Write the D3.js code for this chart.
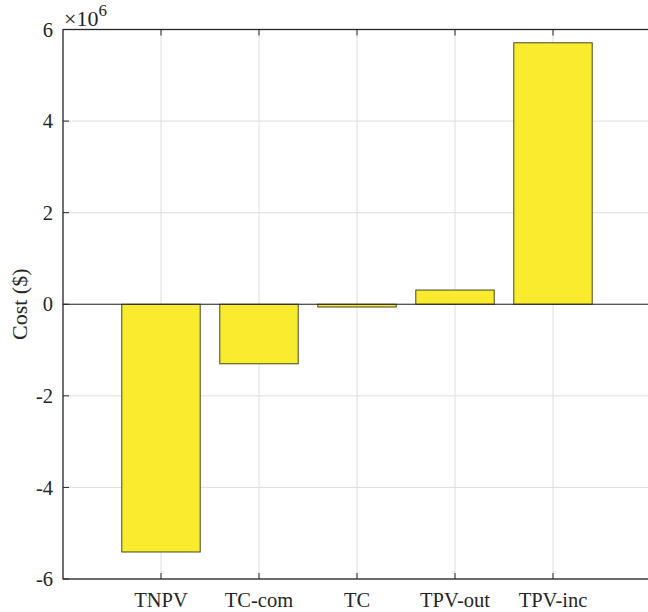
<!DOCTYPE html>
<html>
<head>
<meta charset="utf-8">
<script src="https://cdn.jsdelivr.net/npm/d3@7"></script>
<style>
  body { margin: 0; background: #fff; }
  text { font-family: "Liberation Serif", "DejaVu Serif", serif; fill: #262626; }
</style>
</head>
<body>
<script>
// chart data
var categories = ["TNPV", "TC-com", "TC", "TPV-out", "TPV-inc"];
var costs = [-5.41e6, -1.30e6, -0.06e6, 0.31e6, 5.71e6];
var yTicks = [-6e6, -4e6, -2e6, 0, 2e6, 4e6, 6e6];

var width = 648, height = 612;
var margin = { top: 29.5, right: -3, bottom: 33, left: 63 };
var plotW = width - margin.left - margin.right,
    plotH = height - margin.top - margin.bottom;

var svg = d3.select("body").append("svg")
    .attr("width", width)
    .attr("height", height);

var g = svg.append("g")
    .attr("transform", "translate(" + margin.left + "," + margin.top + ")");

// x: positions 1..5 in domain [0, 6]
var x = d3.scaleLinear().domain([0, 6]).range([0, plotW]);
var y = d3.scaleLinear().domain([-6e6, 6e6]).range([plotH, 0]);

var tickLen = 6;

// grid
g.selectAll("line.gx")
    .data(categories)
    .enter().append("line")
    .attr("class", "gx")
    .attr("x1", function (d, i) { return x(i + 1); })
    .attr("x2", function (d, i) { return x(i + 1); })
    .attr("y1", 0).attr("y2", plotH)
    .attr("stroke", "#dedede").attr("stroke-width", 1);

g.selectAll("line.gy")
    .data(yTicks)
    .enter().append("line")
    .attr("class", "gy")
    .attr("x1", 0).attr("x2", plotW)
    .attr("y1", function (d) { return y(d); })
    .attr("y2", function (d) { return y(d); })
    .attr("stroke", "#dedede").attr("stroke-width", 1);

// bars
var barW = x(0.8) - x(0);
g.selectAll("rect.bar")
    .data(costs)
    .enter().append("rect")
    .attr("class", "bar")
    .attr("x", function (d, i) { return x(i + 1) - barW / 2; })
    .attr("width", barW)
    .attr("y", function (d) { return y(Math.max(0, d)); })
    .attr("height", function (d) { return Math.abs(y(d) - y(0)); })
    .attr("fill", "#f9ec2e")
    .attr("stroke", "#4a4720")
    .attr("stroke-width", 1);

// baseline at zero
g.append("line")
    .attr("x1", 0).attr("x2", plotW)
    .attr("y1", y(0)).attr("y2", y(0))
    .attr("stroke", "#262626").attr("stroke-width", 1);

// box
g.append("rect")
    .attr("x", 0).attr("y", 0)
    .attr("width", plotW).attr("height", plotH)
    .attr("fill", "none")
    .attr("stroke", "#262626").attr("stroke-width", 1.3);

// ticks (inward)
categories.forEach(function (c, i) {
    var px = x(i + 1);
    g.append("line").attr("x1", px).attr("x2", px)
        .attr("y1", plotH).attr("y2", plotH - tickLen)
        .attr("stroke", "#262626");
    g.append("line").attr("x1", px).attr("x2", px)
        .attr("y1", 0).attr("y2", tickLen)
        .attr("stroke", "#262626");
});
yTicks.forEach(function (v) {
    g.append("line").attr("x1", 0).attr("x2", tickLen)
        .attr("y1", y(v)).attr("y2", y(v))
        .attr("stroke", "#262626");
});

// tick labels
g.selectAll("text.xl")
    .data(categories)
    .enter().append("text")
    .attr("class", "xl")
    .attr("x", function (d, i) { return x(i + 1); })
    .attr("y", plotH + 28)
    .attr("text-anchor", "middle")
    .style("font-size", "20.5px")
    .text(function (d) { return d; });

g.selectAll("text.yl")
    .data(yTicks)
    .enter().append("text")
    .attr("class", "yl")
    .attr("x", -10)
    .attr("y", function (d) { return y(d); })
    .attr("dy", "0.35em")
    .attr("text-anchor", "end")
    .style("font-size", "20.5px")
    .text(function (d) { return d3.format("d")(d / 1e6).replace("−", "-"); });

// exponent label
var ex = svg.append("text")
    .attr("x", margin.left + 1)
    .attr("y", 26)
    .style("font-size", "22px");
ex.append("tspan").text("×10");
ex.append("tspan")
    .attr("dy", -10)
    .style("font-size", "17px")
    .text("6");

// y axis title
svg.append("text")
    .attr("transform", "translate(27," + (margin.top + y(0)) + ") rotate(-90)")
    .attr("text-anchor", "middle")
    .style("font-size", "22px")
    .text("Cost ($)");
</script>
</body>
</html>
